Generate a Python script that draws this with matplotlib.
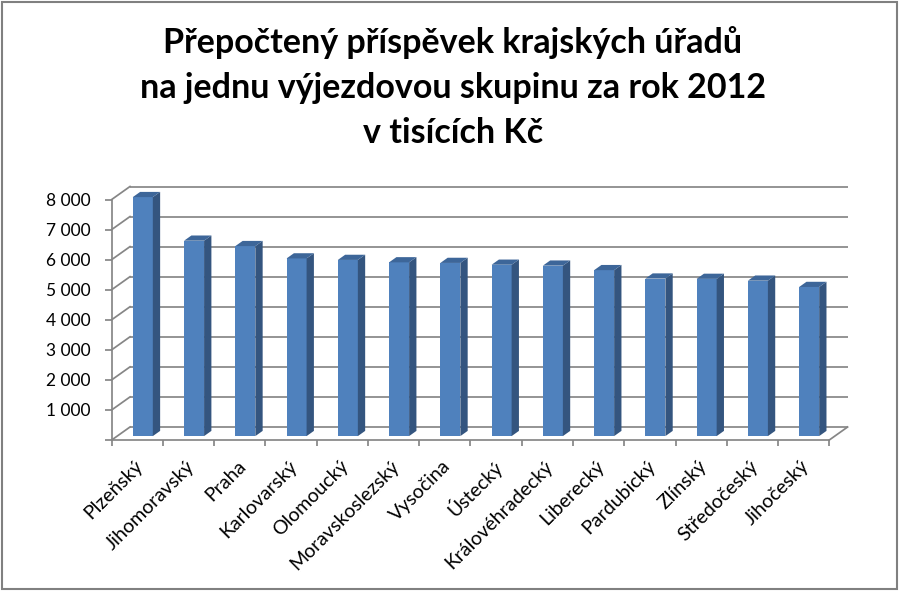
import matplotlib
matplotlib.use('Agg')
import matplotlib.pyplot as plt
from matplotlib.patches import Polygon, Rectangle
import numpy as np

plt.rcParams['font.family'] = ['Lato', 'DejaVu Sans']

categories = ['Plzeňský', 'Jihomoravský', 'Praha', 'Karlovarský', 'Olomoucký',
              'Moravskoslezský', 'Vysočina', 'Ústecký', 'Královéhradecký',
              'Liberecký', 'Pardubický', 'Zlínský', 'Středočeský', 'Jihočeský']
values = [7950, 6500, 6320, 5910, 5860, 5780, 5760, 5700, 5670, 5520,
          5240, 5230, 5170, 4960]
yticks = [0, 1000, 2000, 3000, 4000, 5000, 6000, 7000, 8000]
ytick_labels = ['' if v == 0 else f'{v:,}'.replace(',', ' ') for v in yticks]
title_lines = ['Přepočtený příspěvek krajských úřadů',
               'na jednu výjezdovou skupinu za rok 2012',
               'v tisících Kč']

W, H = 900, 591
fig = plt.figure(figsize=(W / 100, H / 100), dpi=100)

# front plane of the pseudo-3D plot (pixel positions)
x0, x1 = 111.7, 829.3
y0, y8 = 440.0, 199.5
ax = fig.add_axes([x0 / W, (H - y0) / H, (x1 - x0) / W, (y0 - y8) / H])
n = len(categories)
ax.set_xlim(-0.5, n - 0.5)
ax.set_ylim(0, 8000)

px_x = n / (x1 - x0)
px_y = 8000 / (y0 - y8)
DX = 18.3 * px_x
DY = 13.0 * px_y

grid = '#868686'
lw = 1.25

# back wall gridlines and side-wall diagonals
for v in yticks:
    ax.plot([-0.5 + DX, n - 0.5 + DX], [v + DY, v + DY], color=grid, lw=lw,
            clip_on=False, zorder=1, solid_capstyle='butt')
    ax.plot([-0.5, -0.5 + DX], [v, v + DY], color=grid, lw=lw,
            clip_on=False, zorder=1)
ax.plot([n - 0.5, n - 0.5 + DX], [0, DY], color=grid, lw=lw, clip_on=False, zorder=1)

# bars
f0 = 0.3
d = 0.4
bw = 20 * px_x
xs = np.arange(n) + f0 * DX
base = f0 * DY
ax.bar(xs, values, width=bw, bottom=base, color='#4F81BD', zorder=3,
       clip_on=False, linewidth=0)
for xc, v in zip(xs, values):
    xl, xr = xc - bw / 2, xc + bw / 2
    t = base + v
    side = [(xr, base), (xr + d * DX, base + d * DY), (xr + d * DX, t + d * DY), (xr, t)]
    top = [(xl, t), (xl + d * DX, t + d * DY), (xr + d * DX, t + d * DY), (xr, t)]
    ax.add_patch(Polygon(side, closed=True, facecolor='#34557F', edgecolor='none',
                         zorder=3, clip_on=False))
    ax.add_patch(Polygon(top, closed=True, facecolor='#3D6699', edgecolor='none',
                         zorder=3, clip_on=False))

# axes styling
for s in ['top', 'right']:
    ax.spines[s].set_visible(False)
for s in ['left', 'bottom']:
    ax.spines[s].set_color(grid)
    ax.spines[s].set_linewidth(lw)
ax.set_facecolor('none')

ax.set_yticks(yticks)
ax.set_yticklabels(ytick_labels, fontsize=12.5)
ax.tick_params(axis='y', length=5, width=lw, color=grid, pad=10)

ax.set_xticks(np.arange(n) + 0.06)
ax.set_xticklabels(categories, rotation=45, ha='right', va='center',
                   rotation_mode='anchor', fontsize=14)
ax.tick_params(axis='x', which='major', length=0, pad=17)
ax.set_xticks(np.arange(n + 1) - 0.5, minor=True)
ax.tick_params(axis='x', which='minor', length=4, width=lw, color=grid)

for line, yb in zip(title_lines, [52.7, 97.5, 143.0]):
    fig.text(453 / W, 1 - yb / H, line, ha='center', va='baseline', fontsize=24.5,
             fontweight='bold')

fig.patches.append(Rectangle((1.5 / W, 2.0 / H), 895.5 / W, 587.0 / H,
                             transform=fig.transFigure, fill=False,
                             edgecolor='#808080', lw=1.5))

fig.savefig('out.png', dpi=100)
